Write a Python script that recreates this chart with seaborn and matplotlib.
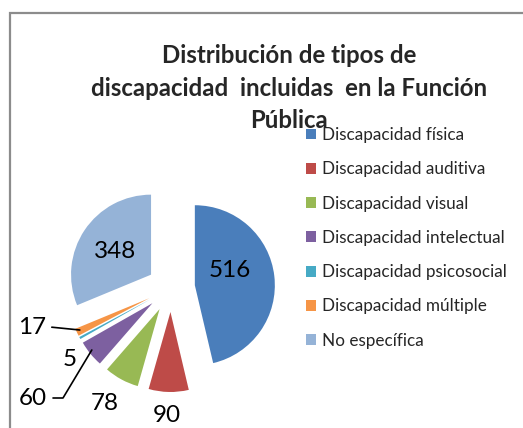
import matplotlib
matplotlib.use("Agg")
import matplotlib.pyplot as plt
import seaborn as sns
import numpy as np
from matplotlib.patches import Rectangle, Patch

# ---- data ----
categories = ["Discapacidad física", "Discapacidad auditiva", "Discapacidad visual",
              "Discapacidad intelectual", "Discapacidad psicosocial",
              "Discapacidad múltiple", "No específica"]
values = [516, 90, 78, 60, 5, 17, 348]
title = "Distribución de tipos de\ndiscapacidad  incluidas  en la Función\nPública"

colors = ["#4A7EBB", "#BE4B48", "#98B954", "#7D60A0", "#46AAC5", "#F69546", "#95B3D7"]

sns.set_theme(style="white")
plt.rcParams['font.family'] = ['Lato', 'DejaVu Sans']

W, H = 523, 428
fig = plt.figure(figsize=(W / 100, H / 100), dpi=100)
fig.patch.set_facecolor("white")

# outer frame (cropped on right/bottom)
fig.patches.append(Rectangle((10 / W, -0.1), 1.2, (H - 13) / H + 0.1,
                             transform=fig.transFigure, fill=False,
                             edgecolor="#8C8C8C", lw=1.6))

# axes: 80 px per data unit, pie centre at pixel (171, 288)
R = 80.0
cx, cy = 171.0, 288.0
left_px, right_px, top_px, bot_px = 0, 300, 150, 428
ax = fig.add_axes([left_px / W, 1 - bot_px / H, (right_px - left_px) / W, (bot_px - top_px) / H])
wedges, _ = ax.pie(values, colors=colors, startangle=90, counterclock=False,
                   explode=[0.3] * len(values), radius=1.0,
                   wedgeprops=dict(linewidth=0))
ax.set_xlim((left_px - cx) / R, (right_px - cx) / R)
ax.set_ylim((cy - bot_px) / R, (cy - top_px) / R)
ax.set_aspect("equal", adjustable="box")
ax.axis("off")

lab_fs = 17.5
# label positions (layout, in data units)
label_pos = {0: (0.74, 0.22), 1: (-0.05, -1.59), 2: (-0.83, -1.44),
             3: (-1.73, -1.38), 4: (-1.26, -0.90), 5: (-1.74, -0.49), 6: (-0.70, 0.45)}
for i, v in enumerate(values):
    x, y = label_pos[i]
    ax.text(x, y, str(v), ha="center", va="center", fontsize=lab_fs, color="black")

# leader lines
ax.plot([-1.49, -1.14], [-0.49, -0.525], color="black", lw=1.2)
ax.plot([-1.475, -1.35, -0.99], [-1.375, -1.375, -0.775], color="black", lw=1.2)

fig.text(289 / W, 1 - 88 / H, title, ha="center", va="center", fontsize=17.3,
         fontweight="bold", linespacing=1.5)

handles = [Patch(facecolor=c, edgecolor="none") for c in colors]
leg = fig.legend(handles, categories, loc="upper left",
                 bbox_to_anchor=(306 / W, 1 - 127 / H), frameon=False,
                 fontsize=12.3, handlelength=0.6, handleheight=0.6,
                 handletextpad=0.35, labelspacing=1.07, borderpad=0, borderaxespad=0)

fig.savefig("out.png", dpi=100, facecolor="white")
